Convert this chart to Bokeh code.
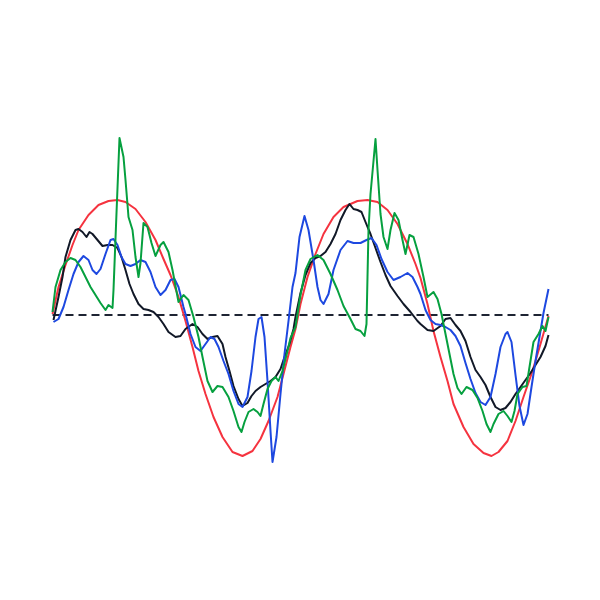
from bokeh.plotting import figure
from bokeh.models import Range1d
from bokeh.embed import file_html
from bokeh.resources import INLINE

# sample index (0..496) and signal values; dashed baseline at 0
red_x = [0, 6, 13, 20, 26, 36, 46, 56, 65, 73, 83, 93, 103, 111, 118, 126, 133, 140, 146, 153, 161, 170, 180, 190, 200, 208, 216, 225, 231, 238, 243, 248, 255, 263, 271, 281, 291, 305, 315, 325, 335, 345, 355, 363, 368, 375, 381, 388, 395, 401, 411, 421, 431, 439, 446, 455, 463, 471, 480, 488, 496]
red_y = [0.01, 0.28, 0.50, 0.70, 0.85, 1.00, 1.10, 1.14, 1.15, 1.13, 1.06, 0.93, 0.75, 0.56, 0.40, 0.18, -0.06, -0.32, -0.56, -0.79, -1.02, -1.22, -1.37, -1.41, -1.36, -1.24, -1.06, -0.82, -0.59, -0.32, -0.14, 0.11, 0.38, 0.61, 0.81, 0.98, 1.08, 1.14, 1.15, 1.13, 1.05, 0.91, 0.71, 0.51, 0.37, 0.11, -0.16, -0.42, -0.66, -0.89, -1.12, -1.29, -1.38, -1.41, -1.37, -1.26, -1.06, -0.82, -0.56, -0.29, -0.01]

black_x = [1, 6, 10, 13, 18, 23, 26, 30, 34, 37, 40, 45, 50, 55, 60, 65, 69, 73, 77, 81, 86, 91, 96, 101, 106, 111, 116, 123, 128, 133, 140, 145, 150, 155, 160, 165, 170, 173, 177, 181, 186, 190, 195, 199, 203, 208, 213, 218, 223, 228, 232, 237, 241, 243, 248, 253, 258, 263, 268, 273, 278, 283, 288, 293, 297, 301, 305, 309, 313, 318, 323, 328, 333, 338, 345, 351, 358, 365, 368, 375, 381, 388, 393, 398, 403, 408, 413, 418, 423, 428, 433, 438, 443, 448, 453, 458, 463, 468, 473, 478, 483, 488, 493, 496]
black_y = [-0.05, 0.18, 0.38, 0.58, 0.75, 0.85, 0.86, 0.83, 0.78, 0.83, 0.81, 0.75, 0.69, 0.70, 0.70, 0.67, 0.58, 0.45, 0.31, 0.21, 0.11, 0.06, 0.05, 0.03, -0.02, -0.09, -0.17, -0.22, -0.21, -0.14, -0.09, -0.12, -0.19, -0.24, -0.22, -0.21, -0.29, -0.42, -0.56, -0.71, -0.84, -0.91, -0.88, -0.81, -0.76, -0.72, -0.69, -0.66, -0.62, -0.54, -0.42, -0.29, -0.14, -0.02, 0.22, 0.40, 0.52, 0.57, 0.59, 0.63, 0.71, 0.81, 0.95, 1.05, 1.11, 1.06, 1.05, 1.03, 0.93, 0.81, 0.67, 0.53, 0.40, 0.29, 0.19, 0.11, 0.03, -0.06, -0.09, -0.15, -0.16, -0.11, -0.04, -0.03, -0.10, -0.16, -0.26, -0.42, -0.55, -0.62, -0.70, -0.82, -0.92, -0.95, -0.93, -0.87, -0.79, -0.72, -0.65, -0.58, -0.50, -0.42, -0.31, -0.20]

blue_x = [1, 6, 11, 16, 21, 26, 31, 36, 40, 44, 48, 53, 58, 61, 65, 69, 73, 78, 83, 88, 93, 98, 103, 108, 113, 118, 122, 126, 131, 133, 138, 143, 148, 153, 158, 162, 166, 171, 176, 181, 186, 190, 195, 199, 203, 206, 209, 212, 215, 218, 220, 224, 228, 232, 236, 240, 243, 247, 252, 256, 261, 265, 268, 271, 276, 281, 288, 295, 301, 308, 314, 319, 324, 329, 335, 341, 348, 355, 360, 365, 368, 373, 378, 383, 388, 393, 398, 403, 408, 413, 418, 423, 428, 433, 438, 443, 448, 453, 455, 459, 463, 467, 471, 475, 479, 483, 487, 491, 496]
blue_y = [-0.07, -0.04, 0.08, 0.25, 0.41, 0.53, 0.59, 0.55, 0.45, 0.41, 0.46, 0.61, 0.75, 0.76, 0.70, 0.58, 0.51, 0.49, 0.51, 0.55, 0.53, 0.43, 0.28, 0.20, 0.25, 0.35, 0.36, 0.28, 0.08, 0.01, -0.19, -0.32, -0.36, -0.29, -0.22, -0.24, -0.32, -0.46, -0.59, -0.76, -0.89, -0.92, -0.82, -0.56, -0.22, -0.04, -0.02, -0.22, -0.66, -1.16, -1.47, -1.22, -0.79, -0.39, -0.06, 0.28, 0.42, 0.78, 0.99, 0.85, 0.55, 0.28, 0.15, 0.11, 0.21, 0.45, 0.65, 0.74, 0.72, 0.72, 0.75, 0.77, 0.70, 0.56, 0.43, 0.35, 0.38, 0.42, 0.38, 0.28, 0.21, 0.05, -0.05, -0.09, -0.10, -0.12, -0.15, -0.21, -0.31, -0.48, -0.64, -0.78, -0.87, -0.90, -0.82, -0.59, -0.32, -0.19, -0.17, -0.27, -0.60, -0.91, -1.10, -0.99, -0.72, -0.46, -0.22, 0.02, 0.26]

green_x = [0, 3, 8, 13, 18, 23, 28, 33, 38, 43, 48, 53, 56, 60, 61, 64, 67, 71, 73, 76, 80, 83, 86, 88, 91, 95, 99, 103, 108, 111, 116, 120, 126, 131, 136, 141, 146, 150, 155, 160, 165, 170, 176, 181, 186, 189, 192, 196, 201, 205, 208, 211, 215, 219, 223, 226, 230, 235, 238, 243, 248, 253, 258, 265, 271, 278, 285, 291, 298, 303, 308, 312, 314, 316, 318, 323, 325, 328, 331, 335, 338, 342, 346, 350, 353, 357, 361, 366, 371, 375, 381, 385, 389, 393, 397, 401, 405, 409, 414, 420, 425, 430, 434, 438, 441, 446, 451, 455, 459, 462, 465, 470, 474, 477, 481, 486, 490, 493, 496]
green_y = [0.03, 0.28, 0.45, 0.53, 0.57, 0.55, 0.48, 0.38, 0.28, 0.20, 0.12, 0.05, 0.10, 0.07, 0.25, 1.02, 1.77, 1.58, 1.35, 0.98, 0.85, 0.58, 0.38, 0.52, 0.92, 0.88, 0.72, 0.59, 0.70, 0.73, 0.63, 0.45, 0.13, 0.20, 0.15, -0.02, -0.22, -0.42, -0.66, -0.77, -0.71, -0.72, -0.82, -0.96, -1.12, -1.17, -1.07, -0.97, -0.94, -0.97, -1.01, -0.89, -0.74, -0.66, -0.62, -0.66, -0.56, -0.36, -0.23, -0.12, 0.20, 0.45, 0.56, 0.60, 0.55, 0.41, 0.25, 0.09, -0.04, -0.14, -0.16, -0.21, -0.09, 0.85, 1.21, 1.76, 1.45, 1.01, 0.78, 0.66, 0.85, 1.02, 0.95, 0.75, 0.61, 0.80, 0.78, 0.61, 0.38, 0.18, 0.23, 0.16, 0.01, -0.19, -0.39, -0.59, -0.73, -0.79, -0.72, -0.75, -0.83, -0.96, -1.09, -1.17, -1.09, -0.99, -0.96, -1.01, -1.07, -0.96, -0.79, -0.72, -0.71, -0.52, -0.27, -0.19, -0.11, -0.16, -0.02]

base_x = [0, 496]
base_y = [0, 0]

p = figure(width=584, height=584, output_backend="svg", toolbar_location=None,
           x_range=Range1d(-52, 532), y_range=Range1d(-2.695, 3.145),
           min_border=0)
p.axis.visible = False
p.grid.visible = False
p.outline_line_color = None
p.background_fill_color = "white"
p.border_fill_color = "white"

p.line(base_x, base_y, line_color="#1e2433", line_width=2, line_dash="8 5")
p.line(red_x, red_y, line_color="#f5333f", line_width=2, line_join="round")
p.line(black_x, black_y, line_color="#111827", line_width=2, line_join="round")
p.line(blue_x, blue_y, line_color="#1d48e0", line_width=2, line_join="round")
p.line(green_x, green_y, line_color="#06a03f", line_width=2, line_join="round")

open("out.html", "w").write(file_html(p, INLINE))
